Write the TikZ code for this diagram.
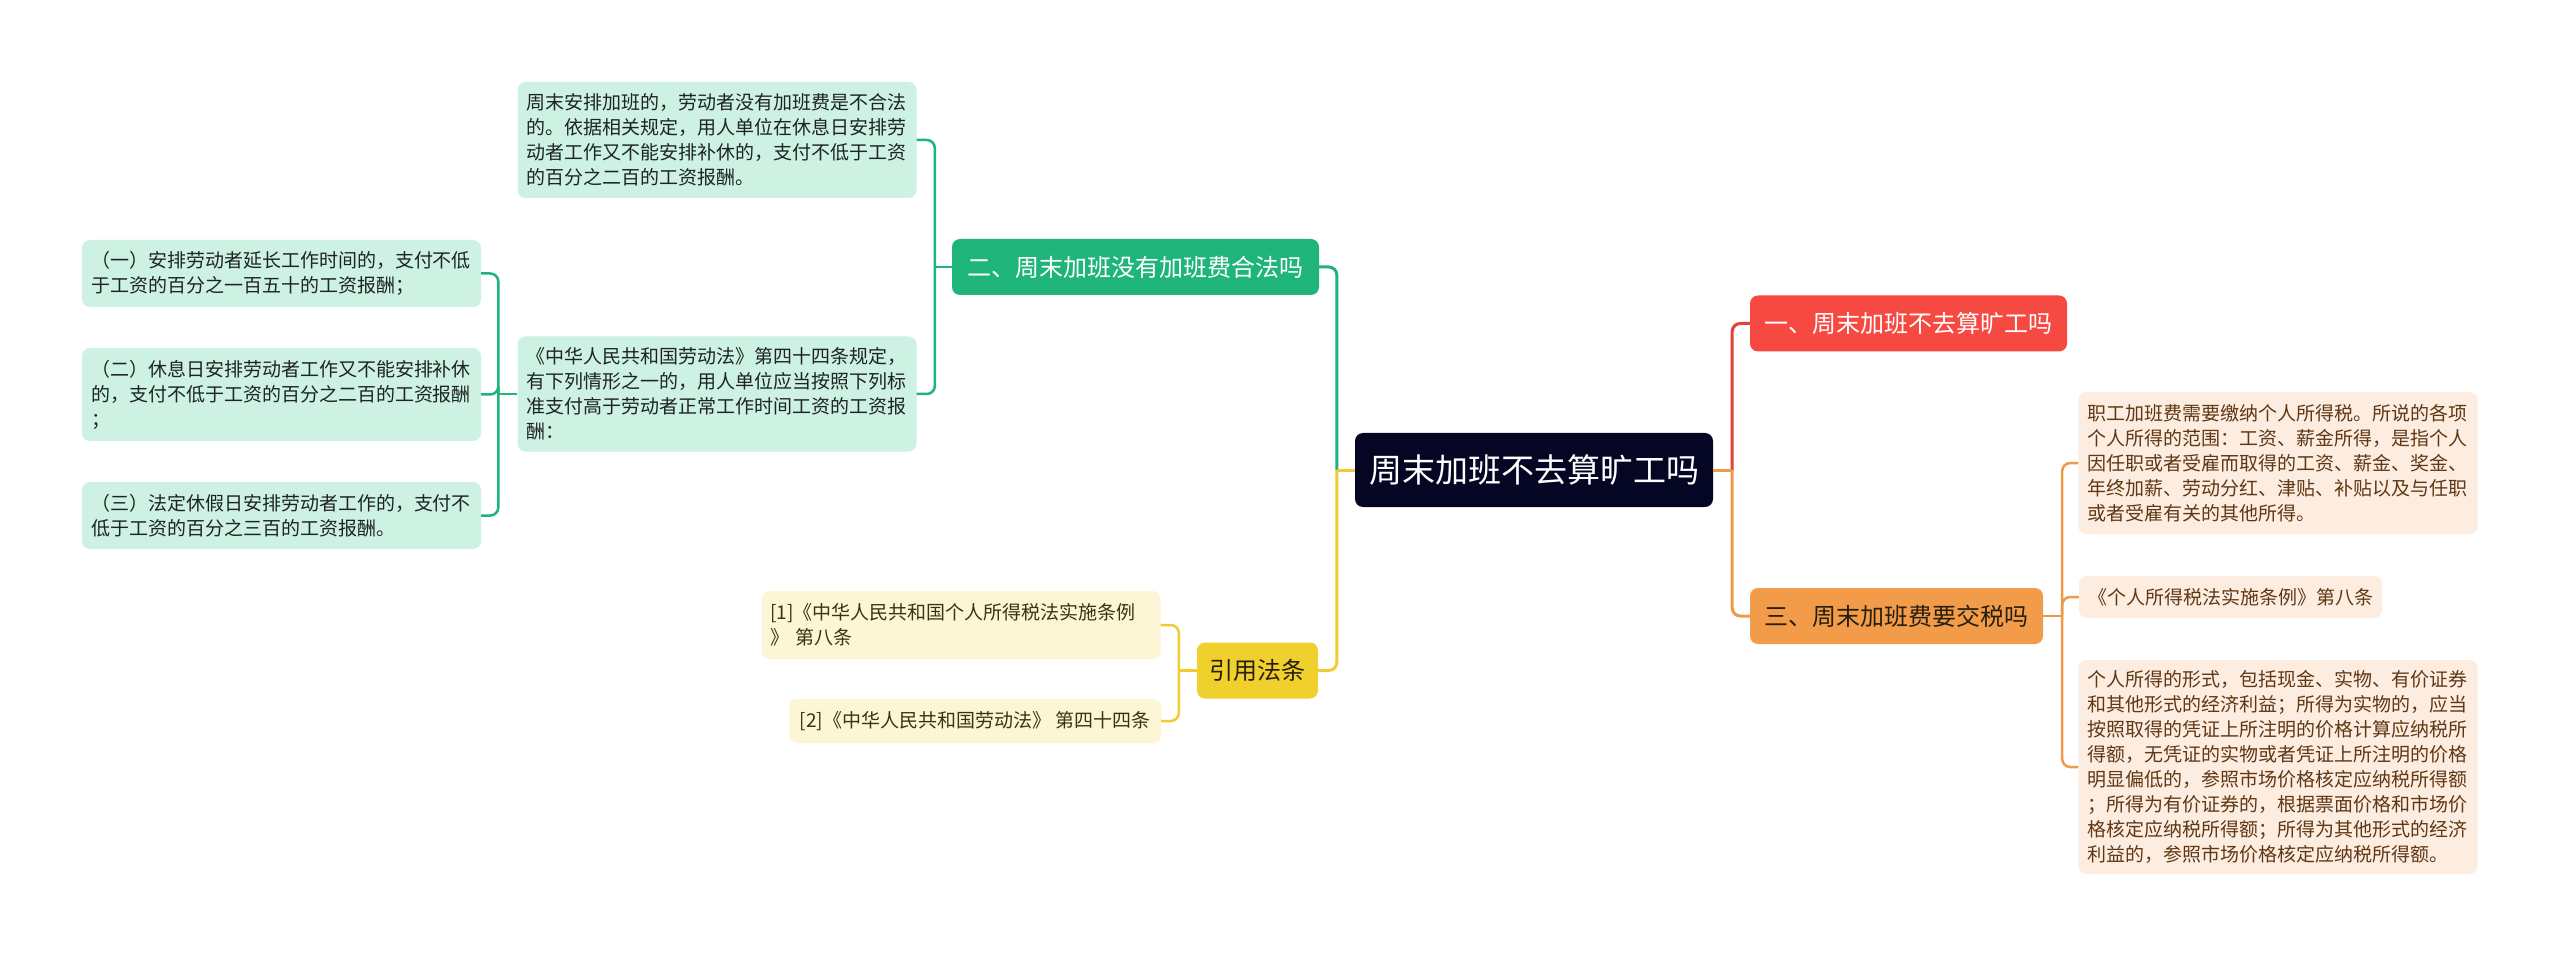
\documentclass[tikz,border=0pt]{standalone}
\usepackage{fontspec}
\setmainfont{Noto Sans CJK SC}
\setlength{\parindent}{0pt}
\definecolor{cdark}{RGB}{5,6,36}
\definecolor{cred}{RGB}{245,73,65}
\definecolor{credline}{RGB}{226,66,58}
\definecolor{corange}{RGB}{242,156,73}
\definecolor{corangeline}{RGB}{238,154,72}
\definecolor{cgreen}{RGB}{30,180,122}
\definecolor{cyellow}{RGB}{240,208,44}
\definecolor{cyellowline}{RGB}{240,204,48}
\definecolor{cgreenleaf}{RGB}{205,241,226}
\definecolor{cyellowleaf}{RGB}{253,246,214}
\definecolor{corangeleaf}{RGB}{253,237,224}
\definecolor{tgreen}{RGB}{30,36,33}
\definecolor{tyellow}{RGB}{60,50,18}
\definecolor{torange}{RGB}{95,55,20}
\definecolor{tdark}{RGB}{40,30,15}
\begin{document}
\begin{tikzpicture}[x=1pt,y=-1pt,
  central/.style={fill=cdark, rounded corners=8pt, text=white, inner sep=0pt,
    minimum width=358pt, minimum height=74pt, font=\fontsize{33}{40}\selectfont},
  branch/.style={rounded corners=8pt, inner sep=0pt, minimum height=56pt,
    font=\fontsize{24}{30}\selectfont},
  leaf/.style={rounded corners=8pt, inner xsep=9pt, inner ysep=0pt, text width=381pt,
    align=left, font=\fontsize{19}{25}\selectfont},
  gleaf/.style={leaf, fill=cgreenleaf, text=tgreen},
  yleaf/.style={leaf, fill=cyellowleaf, text=tyellow},
  oleaf/.style={leaf, fill=corangeleaf, text=torange},
  mainline/.style={line width=3pt},
  subline/.style={line width=2.5pt, rounded corners=8pt},
]
\useasboundingbox (0,0) rectangle (2560,957);
\fill[white] (0,0) rectangle (2560,957);

% central
\node[central] (c) at (1534,470) {周末加班不去算旷工吗};

% branches
\node[branch, fill=cred, text=white, minimum width=317pt] (b1) at (1908.5,323.5) {一、周末加班不去算旷工吗};
\node[branch, fill=corange, text=tdark, minimum width=293pt] (b3) at (1896.5,616) {三、周末加班费要交税吗};
\node[branch, fill=cgreen, text=white, minimum width=367pt] (b2) at (1135.5,267) {二、周末加班没有加班费合法吗};
\node[branch, fill=cyellow, text=tdark, minimum width=121pt] (b4) at (1257.5,670.5) {引用法条};

% green leaves
\node[gleaf, minimum height=116pt] (g1) at (717,140) {周末安排加班的，劳动者没有加班费是不合法\\的。依据相关规定，用人单位在休息日安排劳\\动者工作又不能安排补休的，支付不低于工资\\的百分之二百的工资报酬。};
\node[gleaf, minimum height=115pt] (g2) at (717,394) {《中华人民共和国劳动法》第四十四条规定，\\有下列情形之一的，用人单位应当按照下列标\\准支付高于劳动者正常工作时间工资的工资报\\酬：};
\node[gleaf, minimum height=67pt] (l1) at (281.5,273.5) {（一）安排劳动者延长工作时间的，支付不低\\于工资的百分之一百五十的工资报酬；};
\node[gleaf, minimum height=93pt] (l2) at (281.5,394.5) {（二）休息日安排劳动者工作又不能安排补休\\的，支付不低于工资的百分之二百的工资报酬\\；};
\node[gleaf, minimum height=67pt] (l3) at (281.5,515.5) {（三）法定休假日安排劳动者工作的，支付不\\低于工资的百分之三百的工资报酬。};

% yellow leaves
\node[yleaf, minimum height=68pt] (y1) at (961,625) {[1]《中华人民共和国个人所得税法实施条例\\》 第八条};
\node[fill=cyellowleaf, text=tyellow, rounded corners=8pt, inner sep=0pt, minimum width=372pt, minimum height=44pt, font=\fontsize{19}{25}\selectfont] (y2) at (975,721) {[2]《中华人民共和国劳动法》 第四十四条};

% orange leaves
\node[oleaf, minimum height=142pt] (r1) at (2278,463) {职工加班费需要缴纳个人所得税。所说的各项\\个人所得的范围：工资、薪金所得，是指个人\\因任职或者受雇而取得的工资、薪金、奖金、\\年终加薪、劳动分红、津贴、补贴以及与任职\\或者受雇有关的其他所得。};
\node[fill=corangeleaf, text=torange, rounded corners=8pt, inner sep=0pt, minimum width=303pt, minimum height=42pt, font=\fontsize{19}{25}\selectfont] (r2) at (2230.5,597) {《个人所得税法实施条例》第八条};
\node[oleaf, minimum height=214pt] (r3) at (2278,767) {个人所得的形式，包括现金、实物、有价证券\\和其他形式的经济利益；所得为实物的，应当\\按照取得的凭证上所注明的价格计算应纳税所\\得额，无凭证的实物或者凭证上所注明的价格\\明显偏低的，参照市场价格核定应纳税所得额\\；所得为有价证券的，根据票面价格和市场价\\格核定应纳税所得额；所得为其他形式的经济\\利益的，参照市场价格核定应纳税所得额。};

% junction coordinates
\coordinate (jl) at ([xshift=-18pt]c.west);
\coordinate (jr) at ([xshift=19pt]c.east);
\coordinate (jg) at ([xshift=-17pt]b2.west);
\coordinate (jg2) at ([xshift=-19pt]g2.west);
\coordinate (jy) at ([xshift=-18pt]b4.west);
\coordinate (jo) at ([xshift=19pt]b3.east);

% main connectors
\draw[mainline, cgreen, rounded corners=8pt] (jl) |- (b2.east);
\draw[mainline, cyellowline, rounded corners=8pt] (jl) |- (b4.east);
\draw[mainline, cyellowline] (c.west) -- (jl);
\draw[mainline, credline, rounded corners=8pt] (jr) |- (b1.west);
\draw[mainline, corangeline, rounded corners=8pt] (jr) |- (b3.west);
\draw[mainline, corangeline] (c.east) -- (jr);

% green sub connectors
\draw[subline, cgreen] (b2.west) -- (jg);
\draw[subline, cgreen] (jg) |- (g1.east);
\draw[subline, cgreen] (jg) |- (g2.east);
\draw[subline, cgreen] (g2.west) -- (jg2);
\draw[subline, cgreen] (jg2) |- (l1.east);
\draw[subline, cgreen] (jg2) |- (l2.east);
\draw[subline, cgreen] (jg2) |- (l3.east);

% yellow sub connectors
\draw[subline, cyellowline] (b4.west) -- (jy);
\draw[subline, cyellowline] (jy) |- (y1.east);
\draw[subline, cyellowline] (jy) |- (y2.east);

% orange sub connectors
\draw[subline, corangeline] (b3.east) -- (jo);
\draw[subline, corangeline] (jo) |- (r1.west);
\draw[subline, corangeline] (jo) |- (r2.west);
\draw[subline, corangeline] (jo) |- (r3.west);
\end{tikzpicture}
\end{document}
